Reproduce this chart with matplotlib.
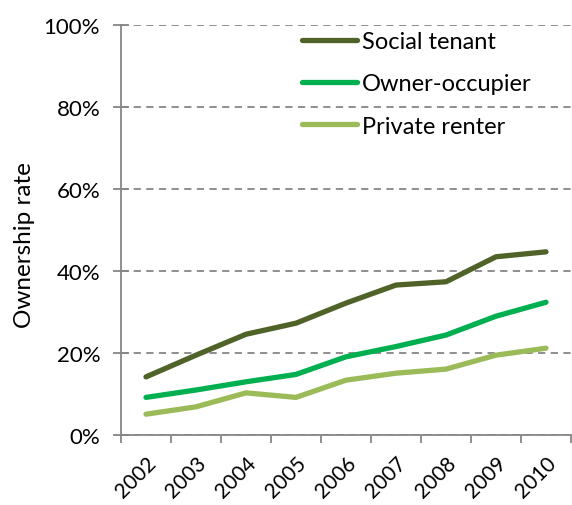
import numpy as np
import matplotlib
matplotlib.use("Agg")
import matplotlib.pyplot as plt
from matplotlib.ticker import FixedLocator, PercentFormatter

plt.rcParams['font.family'] = ['Lato', 'DejaVu Sans']

years = ['2002', '2003', '2004', '2005', '2006', '2007', '2008', '2009', '2010']
social_tenant = [14.1, 19.4, 24.5, 27.2, 32.1, 36.5, 37.3, 43.4, 44.6]
owner_occupier = [9.1, 10.9, 12.9, 14.7, 19.0, 21.5, 24.3, 28.9, 32.3]
private_renter = [5.0, 6.8, 10.2, 9.1, 13.3, 15.0, 16.0, 19.4, 21.1]

series = [
    ("Social tenant", social_tenant, "#4F6228"),
    ("Owner-occupier", owner_occupier, "#00B050"),
    ("Private renter", private_renter, "#9BBB59"),
]

W, H = 572, 506
fig = plt.figure(figsize=(W / 100, H / 100), dpi=100)
ax = fig.add_axes([121 / W, 1 - 435.7 / H, 450 / W, 410 / H])

x = np.arange(len(years))
for name, vals, col in series:
    ax.plot(x, vals, color=col, lw=3.8, solid_capstyle='round', label=name, zorder=3)

ax.set_xlim(-0.5, len(years) - 0.5)
ax.set_ylim(0, 100)
ax.set_yticks(np.arange(0, 101, 20))
ax.yaxis.set_major_formatter(PercentFormatter(decimals=0))
ax.grid(axis='y', color='#868686', ls=(0, (4, 3)), lw=1.3, zorder=1)
ax.set_axisbelow(True)

ax.set_xticks(x)
ax.set_xticklabels(years, rotation=45, ha='right', va='top', rotation_mode='anchor')
ax.xaxis.set_minor_locator(FixedLocator(np.arange(-0.5, len(years), 1)))
ax.tick_params(axis='x', which='major', length=0, pad=13, labelsize=15)
ax.tick_params(axis='x', which='minor', length=5.5, width=1.3, color='#868686')
ax.tick_params(axis='y', direction='inout', length=12, width=1.3, color='#868686',
               labelsize=16, pad=9)

for s in ['top', 'right']:
    ax.spines[s].set_visible(False)
for s in ['left', 'bottom']:
    ax.spines[s].set_color('#868686')
    ax.spines[s].set_linewidth(1.3)

ax.set_ylabel("Ownership rate", fontsize=17.5, labelpad=6)
ax.yaxis.label.set_y(0.465)

leg = ax.legend(loc='upper left', bbox_to_anchor=(302 / W, 1 - 32 / H),
                bbox_transform=fig.transFigure, frameon=False, fontsize=17,
                borderpad=0, borderaxespad=0, handlelength=2.35,
                handletextpad=0.2, labelspacing=0.9)

fig.savefig("out.png", dpi=100)
